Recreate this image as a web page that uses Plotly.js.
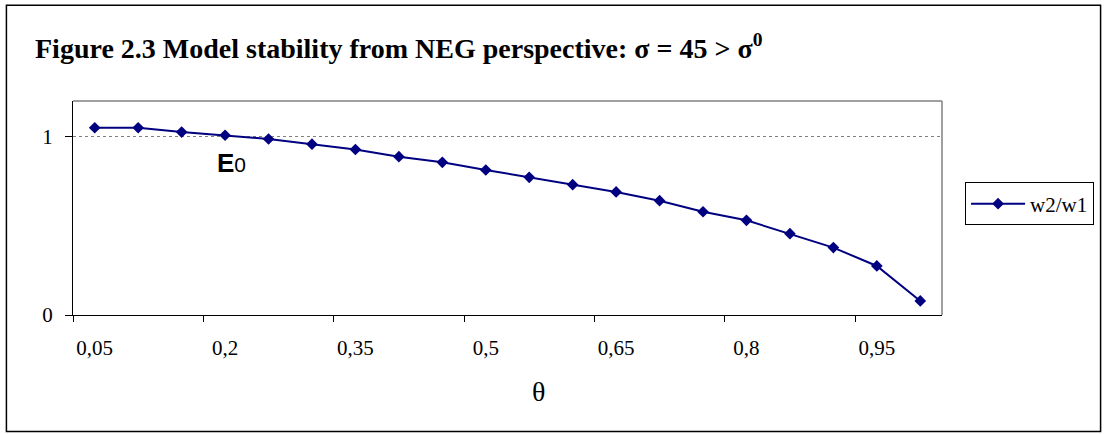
<!DOCTYPE html>
<html>
<head>
<meta charset="utf-8">
<script src="https://cdn.plot.ly/plotly-3.0.1.min.js"></script>
<style>html,body{margin:0;padding:0;background:#fff;}#chart{width:1106px;height:434px;}</style>
</head>
<body>
<div id="chart"></div>
<script>
// Data
var thetaLabels = ["0,05","0,1","0,15","0,2","0,25","0,3","0,35","0,4","0,45","0,5",
                   "0,55","0,6","0,65","0,7","0,75","0,8","0,85","0,9","0,95","1"];
var w2w1 = [1.05, 1.05, 1.026, 1.008, 0.987, 0.958, 0.928, 0.888, 0.856, 0.813,
            0.772, 0.731, 0.690, 0.641, 0.579, 0.531, 0.456, 0.378, 0.275, 0.079];
var seriesName = "w2/w1";
var yTicks = [0, 1];
var yTickText = ["0", "1"];
var titleText = "<b>Figure 2.3 Model stability from NEG perspective: σ = 45 &gt; σ<sup>0</sup></b>";

var trace = {
  x: thetaLabels, y: w2w1, name: seriesName, type: "scatter", mode: "lines+markers",
  line: {color: "#000080", width: 2},
  marker: {symbol: "diamond", size: 9, color: "#000080"}
};

var L = 73.3, R = 951.7, T = 100.7, B = 315.5, W = 1106, H = 434;
var pw = R - L, ph = B - T;
function px(x){ return (x - L) / pw; }
function py(y){ return (B - y) / ph; }

var layout = {
  width: W, height: H,
  margin: {l: L, r: W - R, t: T, b: H - B, pad: 0},
  paper_bgcolor: "#fff", plot_bgcolor: "#fff",
  font: {family: "Liberation Serif", color: "#000", size: 21},
  showlegend: true,
  title: {text: titleText, x: 35 / W, xanchor: "left", xref: "container",
          y: 1 - 48 / H, yanchor: "middle", yref: "container",
          font: {family: "Liberation Serif", size: 28, color: "#000"}},
  xaxis: {type: "category", range: [-0.5, thetaLabels.length - 0.5],
          tickmode: "linear", tick0: 0, dtick: 3, tickson: "boundaries",
          ticks: "outside", ticklen: 6, tickcolor: "#000", tickwidth: 1,
          ticklabelstandoff: 14,
          showline: true, linecolor: "#000", linewidth: 1,
          showgrid: false, zeroline: false, fixedrange: true,
          tickfont: {family: "Liberation Serif", size: 21}, automargin: false},
  yaxis: {range: [0, 1.2], tickmode: "array", tickvals: yTicks, ticktext: yTickText,
          ticks: "outside", ticklen: 7, tickcolor: "#000", tickwidth: 1,
          ticklabelstandoff: 8,
          showline: true, linecolor: "#000", linewidth: 1,
          showgrid: true, gridcolor: "#808080", griddash: "dot", gridwidth: 1,
          zeroline: false, fixedrange: true, automargin: false,
          tickfont: {family: "Liberation Serif", size: 21}},
  legend: {x: px(975), y: py(182.5), xanchor: "left", yanchor: "top",
           bordercolor: "#000", borderwidth: 1, bgcolor: "#fff",
           font: {family: "Liberation Serif", size: 21, color: "#000"},
           itemwidth: 54},
  shapes: [
    {type: "line", xref: "paper", yref: "paper", x0: 0, x1: 1, y0: 1, y1: 1,
     line: {color: "#808080", width: 1.5}},
    {type: "line", xref: "paper", yref: "paper", x0: 1, x1: 1, y0: 0, y1: 1,
     line: {color: "#808080", width: 1.5}},
    {type: "rect", xref: "paper", yref: "paper",
     x0: px(6), x1: px(1112), y0: py(432.5), y1: py(4.5),
     line: {color: "#000", width: 1.5}, fillcolor: "rgba(0,0,0,0)"}
  ],
  annotations: [
    {xref: "paper", yref: "paper", x: px(543.7), y: py(392.6), xanchor: "center", yanchor: "middle",
     text: "θ", showarrow: false, font: {family: "Liberation Serif", size: 28, color: "#000"}},
    {xref: "paper", yref: "paper", x: px(217), y: py(163), xanchor: "left", yanchor: "middle",
     text: "<b>E</b><span style=\"font-size:21px\">0</span>", showarrow: false,
     font: {family: "Liberation Sans", size: 26, color: "#000"}}
  ]
};

Plotly.newPlot("chart", [trace], layout, {displayModeBar: false, staticPlot: true});
</script>
</body>
</html>
